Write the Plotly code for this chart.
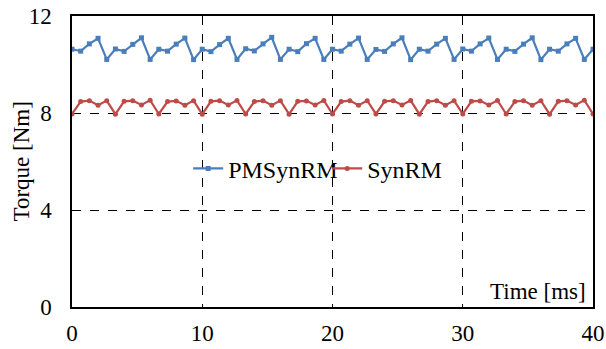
import plotly.graph_objects as go

time_ms = [round(i * 2 / 3, 4) for i in range(61)]

pmsynrm = [10.63, 10.55, 10.85, 11.08, 10.21,
           10.64, 10.54, 10.83, 11.10, 10.21,
           10.63, 10.55, 10.84, 11.09, 10.20,
           10.63, 10.53, 10.82, 11.08, 10.21,
           10.65, 10.56, 10.85, 11.12, 10.21,
           10.63, 10.53, 10.86, 11.08, 10.21,
           10.63, 10.55, 10.84, 11.09, 10.21,
           10.62, 10.54, 10.85, 11.10, 10.20,
           10.63, 10.55, 10.84, 11.08, 10.21,
           10.64, 10.55, 10.85, 11.09, 10.21,
           10.63, 10.54, 10.84, 11.10, 10.20,
           10.63, 10.55, 10.85, 11.08, 10.21,
           10.63]

synrm = [7.96, 8.47, 8.51, 8.32, 8.51,
         7.95, 8.48, 8.51, 8.33, 8.53,
         7.96, 8.47, 8.50, 8.32, 8.51,
         7.95, 8.48, 8.51, 8.33, 8.52,
         7.96, 8.47, 8.51, 8.32, 8.51,
         7.95, 8.48, 8.50, 8.33, 8.52,
         7.96, 8.47, 8.51, 8.32, 8.51,
         7.96, 8.48, 8.51, 8.33, 8.52,
         7.95, 8.47, 8.51, 8.32, 8.51,
         7.96, 8.48, 8.50, 8.33, 8.52,
         7.96, 8.47, 8.51, 8.32, 8.51,
         7.95, 8.48, 8.51, 8.33, 8.53,
         7.96]

x_ticks = [0, 10, 20, 30, 40]
y_ticks = [0, 4, 8, 12]

FONT = "Liberation Serif"

fig = go.Figure()
fig.add_trace(go.Scatter(x=time_ms, y=pmsynrm, name="PMSynRM", mode="lines+markers",
                         line=dict(color="#4a7ebb", width=2.2),
                         marker=dict(symbol="square", size=5, color="#4a7ebb")))
fig.add_trace(go.Scatter(x=time_ms, y=synrm, name="SynRM", mode="lines+markers",
                         line=dict(color="#be4b48", width=2.2),
                         marker=dict(symbol="circle", size=5, color="#be4b48")))

fig.update_layout(
    width=606, height=349,
    margin=dict(l=72, r=13, t=16, b=42),
    paper_bgcolor="white", plot_bgcolor="white",
    font=dict(family=FONT, size=23, color="black"),
    showlegend=True,
    legend=dict(orientation="h", x=0.223, y=0.475, xanchor="left", yanchor="middle",
                bgcolor="rgba(0,0,0,0)", font=dict(family=FONT, size=24), itemwidth=30,
                entrywidth=94, entrywidthmode="pixels", tracegroupgap=0),
)
fig.update_xaxes(range=[0, 40], tickvals=x_ticks, showline=True, linecolor="black",
                 linewidth=1.5, mirror=True, showgrid=True, gridcolor="black",
                 griddash="dash", gridwidth=1, zeroline=False, ticks="",
                 ticklabelstandoff=5, automargin=False, fixedrange=True,
                 tickfont=dict(family=FONT, size=23))
fig.update_yaxes(range=[0, 12], tickvals=y_ticks, showline=True, linecolor="black",
                 linewidth=1.5, mirror=True, showgrid=True, gridcolor="black",
                 griddash="dash", gridwidth=1, zeroline=False, ticks="",
                 ticklabelstandoff=14, automargin=False, fixedrange=True,
                 tickfont=dict(family=FONT, size=23))
fig.add_annotation(text="Torque [Nm]", xref="paper", yref="paper", x=-0.096, y=0.5,
                   xanchor="center", yanchor="middle", textangle=-90, showarrow=False,
                   font=dict(family=FONT, size=23, color="black"))
fig.add_annotation(text="Time [ms]", xref="paper", yref="paper", x=0.99, y=0.005,
                   xanchor="right", yanchor="bottom", showarrow=False,
                   font=dict(family=FONT, size=23, color="black"))

fig.write_html("out.html")
